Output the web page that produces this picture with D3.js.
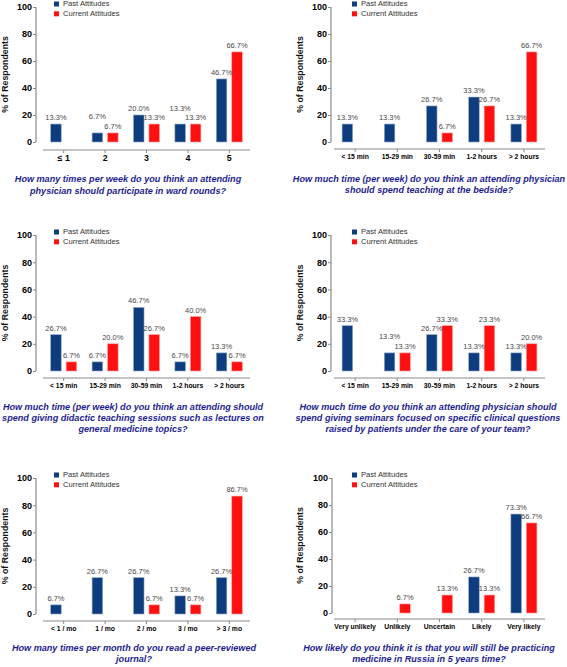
<!DOCTYPE html>
<html>
<head>
<meta charset="utf-8">
<script src="https://cdn.jsdelivr.net/npm/d3@7"></script>
<style>
  html, body { margin: 0; padding: 0; background: #fff; }
  svg { display: block; font-family: "Liberation Sans", Arial, sans-serif; }
</style>
</head>
<body>
<svg id="chart" width="567" height="667"></svg>
<script>
// ---------------- DATA ----------------
const seriesNames = ["Past Attitudes", "Current Attitudes"];
const yTicks = [0, 20, 40, 60, 80, 100];

const categories1 = ["\u2264 1", "2", "3", "4", "5"];
const past1 = [13.3, 6.7, 20.0, 13.3, 46.7];
const current1 = [null, 6.7, 13.3, 13.3, 66.7];
const question1 = ["How many times per week do you think an attending",
                   "physician should participate in ward rounds?"];

const categories2 = ["< 15 min", "15-29 min", "30-59 min", "1-2 hours", "> 2 hours"];
const past2 = [13.3, 13.3, 26.7, 33.3, 13.3];
const current2 = [null, null, 6.7, 26.7, 66.7];
const question2 = ["How much time (per week) do you think an attending physician",
                   "should spend teaching at the bedside?"];

const categories3 = ["< 15 min", "15-29 min", "30-59 min", "1-2 hours", "> 2 hours"];
const past3 = [26.7, 6.7, 46.7, 6.7, 13.3];
const current3 = [6.7, 20.0, 26.7, 40.0, 6.7];
const question3 = ["How much time (per week) do you think an attending should",
                   "spend giving didactic teaching sessions such as lectures on",
                   "general medicine topics?"];

const categories4 = ["< 15 min", "15-29 min", "30-59 min", "1-2 hours", "> 2 hours"];
const past4 = [33.3, 13.3, 26.7, 13.3, 13.3];
const current4 = [null, 13.3, 33.3, 33.3, 20.0];
// printed labels as they appear on the original (one label differs from its bar)
const currentLabels4 = [null, "13.3%", "33.3%", "23.3%", "20.0%"];
const question4 = ["How much time do you think an attending physician should",
                   "spend giving seminars focused on specific clinical questions",
                   "raised by patients under the care of your team?"];

const categories5 = ["< 1 / mo", "1 / mo", "2 / mo", "3 / mo", "> 3 / mo"];
const past5 = [6.7, 26.7, 26.7, 13.3, 26.7];
const current5 = [null, null, 6.7, 6.7, 86.7];
const question5 = ["How many times per month do you read a peer-reviewed",
                   "journal?"];

const categories6 = ["Very unlikely", "Unlikely", "Uncertain", "Likely", "Very likely"];
const past6 = [null, null, null, 26.7, 73.3];
const current6 = [null, 6.7, 13.3, 13.3, 66.7];
const question6 = ["How likely do you think it is that you will still be practicing",
                   "medicine in Russia in 5 years time?"];

// ---------------- LAYOUT ----------------
const colors = { past: "#0d3d7e", current: "#ff1010" };
const strokes = { past: "#8fa7c8", current: "#ff9c9c" };
const captionColor = "#1e1e8f";

const panels = [
  { cats: categories1, past: past1, current: current1, q: question1,
    axisX: 36, yTop: 7, yBot: 142, xAxisY: 150, xr: [43, 250], legX: 54, legY: 4,
    titleX: 6, capX: 128, capY: 180, capStep: 11.5, bigTicks: true },
  { cats: categories2, past: past2, current: current2, q: question2,
    axisX: 331, yTop: 7, yBot: 142, xAxisY: 149, xr: [334, 545], legX: 352, legY: 4,
    titleX: 301, capX: 429, capY: 180, capStep: 11 },
  { cats: categories3, past: past3, current: current3, q: question3,
    axisX: 36, yTop: 235, yBot: 371, xAxisY: 378, xr: [43, 250], legX: 54, legY: 232,
    titleX: 6, capX: 133, capY: 408, capStep: 10.6 },
  { cats: categories4, past: past4, current: current4, currentLabels: currentLabels4, q: question4,
    axisX: 331, yTop: 235, yBot: 371, xAxisY: 378, xr: [334, 545], legX: 352, legY: 232,
    titleX: 301, capX: 428, capY: 408, capStep: 10.6 },
  { cats: categories5, past: past5, current: current5, q: question5,
    axisX: 36, yTop: 478, yBot: 614, xAxisY: 621, xr: [43, 250], legX: 54, legY: 475,
    titleX: 6, capX: 134, capY: 649, capStep: 11 },
  { cats: categories6, past: past6, current: current6, q: question6,
    axisX: 332, yTop: 478, yBot: 613, xAxisY: 619, xr: [334, 545], legX: 352, legY: 475,
    titleX: 301, capX: 429, capY: 649, capStep: 11 }
];

const svg = d3.select("#chart");
const fmt = v => d3.format(".1f")(v) + "%";
const axisColor = "#8a8a8a";
const FONT = "'Liberation Sans', Arial, sans-serif";

panels.forEach(p => {
  const g = svg.append("g");
  const y = d3.scaleLinear().domain([0, 100]).range([p.yBot, p.yTop]);
  const x = d3.scaleBand().domain(p.cats).range(p.xr).paddingInner(0).paddingOuter(0);
  const inner = d3.scaleBand().domain(["past", "current"]).range([-13, 13]).paddingInner(0.32);

  // Y axis
  const yAxis = d3.axisLeft(y).tickValues(yTicks).tickSize(3).tickPadding(1).tickFormat(d3.format("d"));
  const ya = g.append("g").attr("transform", `translate(${p.axisX},0)`).call(yAxis);
  ya.select(".domain").attr("stroke", axisColor).attr("stroke-width", 1.2)
    .attr("d", `M0,${p.yTop}V${p.yBot}`);
  ya.selectAll(".tick line").attr("stroke", axisColor);
  ya.selectAll(".tick text").attr("fill", "#000").attr("font-size", 9).attr("font-weight", "bold")
    .attr("font-family", FONT);

  // X axis
  const xAxis = d3.axisBottom(x).tickSize(3).tickPadding(2);
  const xa = g.append("g").attr("transform", `translate(0,${p.xAxisY})`).call(xAxis);
  xa.select(".domain").attr("stroke", axisColor).attr("stroke-width", 1.2)
    .attr("d", `M${p.xr[0]},0H${p.xr[1]}`);
  xa.selectAll(".tick line").attr("stroke", axisColor);
  xa.selectAll(".tick text").attr("fill", "#000")
    .attr("font-size", p.bigTicks ? 8.8 : 6.8).attr("font-weight", "bold")
    .attr("font-family", FONT);

  // Y title
  g.append("text")
    .attr("transform", `translate(${p.titleX},${(p.yTop + p.yBot) / 2}) rotate(-90)`)
    .attr("text-anchor", "middle").attr("dominant-baseline", "middle")
    .attr("font-size", 8.8).attr("font-weight", "bold").attr("fill", "#111")
    .text("% of Respondents");

  // Bars
  const labelPos = {};
  ["past", "current"].forEach(s => {
    const vals = p[s];
    const labs = s === "current" && p.currentLabels ? p.currentLabels : vals.map(v => v == null ? null : fmt(v));
    const data = p.cats.map((c, i) => ({ c, i, v: vals[i], l: labs[i] })).filter(d => d.v != null);
    g.selectAll(null).data(data).enter().append("rect")
      .attr("x", d => x(d.c) + x.bandwidth() / 2 + inner(s))
      .attr("width", inner.bandwidth())
      .attr("y", d => y(d.v))
      .attr("height", d => y(0) - y(d.v))
      .attr("fill", colors[s])
      .attr("stroke", strokes[s]).attr("stroke-width", 0.6);
    labelPos[s] = data;
  });
  // Value labels: when both bars of a group are equal, the past label is lifted
  const curV = {};
  labelPos.current.forEach(d => { curV[d.i] = d.v; d.ly = y(d.v) - 4; });
  labelPos.past.forEach(d => {
    let ly = y(d.v) - 4;
    if (curV[d.i] != null && Math.abs(d.v - curV[d.i]) < 1) ly = y(curV[d.i]) - 4 - 9.5;
    d.ly = ly;
  });
  ["past", "current"].forEach(s => {
    g.selectAll(null).data(labelPos[s]).enter().append("text")
      .attr("x", d => x(d.c) + x.bandwidth() / 2 + inner(s) + inner.bandwidth() / 2)
      .attr("y", d => d.ly)
      .attr("text-anchor", "middle")
      .attr("font-size", 7.5).attr("fill", "#4a4a4a")
      .text(d => d.l);
  });

  // Legend
  seriesNames.forEach((name, i) => {
    const key = i === 0 ? "past" : "current";
    const ly = p.legY + i * 9.8;
    g.append("rect").attr("x", p.legX).attr("y", ly - 2.5).attr("width", 5).attr("height", 5)
      .attr("fill", colors[key]);
    g.append("text").attr("x", p.legX + 9).attr("y", ly)
      .attr("dominant-baseline", "middle").attr("font-size", 7.6).attr("fill", "#333")
      .text(name);
  });

  // Caption
  p.q.forEach((line, i) => {
    g.append("text").attr("x", p.capX).attr("y", p.capY + i * p.capStep)
      .attr("text-anchor", "middle").attr("dominant-baseline", "middle")
      .attr("font-size", 9.1).attr("font-weight", "bold").attr("font-style", "italic")
      .attr("fill", captionColor)
      .text(line);
  });
});
</script>
</body>
</html>
